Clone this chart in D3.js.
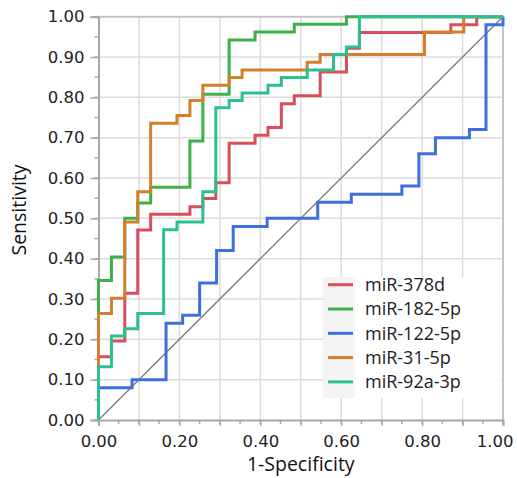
<!DOCTYPE html>
<html>
<head>
<meta charset="utf-8">
<script src="https://cdn.jsdelivr.net/npm/d3@7"></script>
<style>
  body { margin: 0; background: #fff; }
  .tick text { font-family: "DejaVu Sans", Verdana, sans-serif; font-size: 16.5px; fill: #222; }
  .title { font-family: "Open Sans", sans-serif; font-size: 19.5px; fill: #111; }
  .legend text { font-family: "Open Sans", sans-serif; font-size: 18px; fill: #222; }
</style>
</head>
<body>
<div class="chart"></div>
<script>
// ROC points (1-specificity, sensitivity)
var names = ["miR-378d", "miR-182-5p", "miR-122-5p", "miR-31-5p", "miR-92a-3p"];
var colors = ["#da4e5c", "#3eb04a", "#3e6fde", "#d37f2b", "#2cbf8f"];

var fpr378 = [0, 0, 0.032, 0.065, 0.097, 0.129, 0.226, 0.258, 0.29, 0.323, 0.387, 0.419, 0.452, 0.484, 0.548, 0.613, 0.645, 0.871, 0.935, 1];
var tpr378 = [0, 0.157, 0.196, 0.314, 0.471, 0.51, 0.529, 0.549, 0.588, 0.686, 0.706, 0.725, 0.784, 0.804, 0.863, 0.922, 0.961, 0.98, 1, 1];

var fpr182 = [0, 0, 0.032, 0.065, 0.097, 0.129, 0.226, 0.258, 0.323, 0.387, 0.484, 0.613, 1];
var tpr182 = [0, 0.346, 0.404, 0.5, 0.538, 0.577, 0.692, 0.808, 0.942, 0.962, 0.981, 1, 1];

var fpr122 = [0, 0, 0.083, 0.167, 0.208, 0.25, 0.292, 0.333, 0.417, 0.542, 0.625, 0.75, 0.792, 0.833, 0.917, 0.958, 1];
var tpr122 = [0, 0.08, 0.1, 0.24, 0.26, 0.34, 0.42, 0.48, 0.5, 0.54, 0.56, 0.58, 0.66, 0.7, 0.72, 0.98, 1];

var fpr31 = [0, 0, 0.032, 0.065, 0.097, 0.129, 0.194, 0.226, 0.258, 0.323, 0.355, 0.516, 0.548, 0.806, 0.903, 1];
var tpr31 = [0, 0.264, 0.302, 0.491, 0.566, 0.736, 0.755, 0.792, 0.83, 0.849, 0.868, 0.887, 0.906, 0.962, 1, 1];

var fpr92 = [0, 0, 0.032, 0.065, 0.097, 0.161, 0.194, 0.258, 0.29, 0.323, 0.355, 0.419, 0.452, 0.516, 0.581, 0.613, 0.645, 1];
var tpr92 = [0, 0.132, 0.208, 0.226, 0.264, 0.472, 0.491, 0.566, 0.774, 0.792, 0.811, 0.83, 0.849, 0.868, 0.906, 0.925, 1, 1];

var xTicks = [0, 0.2, 0.4, 0.6, 0.8, 1.0];
var yTicks = [0, 0.1, 0.2, 0.3, 0.4, 0.5, 0.6, 0.7, 0.8, 0.9, 1.0];
var gridVals = [0.1, 0.2, 0.3, 0.4, 0.5, 0.6, 0.7, 0.8, 0.9];
var minorVals = d3.range(0, 1.0001, 0.05);

var curves = [
  {name: names[0], color: colors[0], fpr: fpr378, tpr: tpr378},
  {name: names[1], color: colors[1], fpr: fpr182, tpr: tpr182},
  {name: names[2], color: colors[2], fpr: fpr122, tpr: tpr122},
  {name: names[3], color: colors[3], fpr: fpr31, tpr: tpr31},
  {name: names[4], color: colors[4], fpr: fpr92, tpr: tpr92}
];

var width = 517, height = 478;
var x = d3.scaleLinear().domain([0, 1]).range([98.5, 503]);
var y = d3.scaleLinear().domain([0, 1]).range([420, 16.7]);

var svg = d3.select(".chart")
  .append("svg")
  .attr("width", width)
  .attr("height", height);

// grid
var grid = svg.append("g").attr("class", "grid");
grid.selectAll(".gx").data(gridVals).enter().append("line")
  .attr("x1", d => x(d)).attr("x2", d => x(d))
  .attr("y1", y(0)).attr("y2", y(1))
  .attr("stroke", "#dcdcdc").attr("stroke-width", 1.5);
grid.selectAll(".gy").data(gridVals).enter().append("line")
  .attr("y1", d => y(d)).attr("y2", d => y(d))
  .attr("x1", x(0)).attr("x2", x(1))
  .attr("stroke", "#dcdcdc").attr("stroke-width", 1.5);

// frame top/right
svg.append("path")
  .attr("d", "M" + x(0) + "," + y(1) + "H" + x(1) + "V" + y(0))
  .attr("fill", "none")
  .attr("stroke", "#c4c4c4")
  .attr("stroke-width", 2);

// minor ticks
svg.append("g").selectAll("line").data(minorVals).enter().append("line")
  .attr("x1", d => x(d)).attr("x2", d => x(d))
  .attr("y1", y(0)).attr("y2", y(0) + 4)
  .attr("stroke", "#a8a8a8").attr("stroke-width", 1.5);
svg.append("g").selectAll("line").data(minorVals).enter().append("line")
  .attr("y1", d => y(d)).attr("y2", d => y(d))
  .attr("x1", x(0)).attr("x2", x(0) - 4)
  .attr("stroke", "#a8a8a8").attr("stroke-width", 1.5);

var xAxis = svg.append("g")
  .attr("transform", "translate(0," + y(0) + ")")
  .call(d3.axisBottom(x).tickValues(d3.range(0, 1.0001, 0.1)).tickSize(6).tickPadding(9)
    .tickFormat(d => xTicks.some(t => Math.abs(t - d) < 1e-6) ? d3.format(".2f")(d) : ""));
var yAxis = svg.append("g")
  .attr("transform", "translate(" + x(0) + ",0)")
  .call(d3.axisLeft(y).tickValues(yTicks).tickSize(8).tickPadding(6).tickFormat(d3.format(".2f")));

// keep the last x label inside the page
xAxis.selectAll(".tick text")
  .filter(d => Math.abs(d - 1) < 1e-6)
  .attr("text-anchor", "end")
  .attr("x", 10);

[xAxis, yAxis].forEach(function(a) {
  a.select(".domain").attr("stroke", "#a8a8a8").attr("stroke-width", 2);
  a.selectAll(".tick line").attr("stroke", "#a8a8a8").attr("stroke-width", 1.5);
});

// chance line
svg.append("line")
  .attr("x1", x(0)).attr("y1", y(0))
  .attr("x2", x(1)).attr("y2", y(1))
  .attr("stroke", "#7a7a7a").attr("stroke-width", 1.3);

var line = d3.line()
  .x(d => x(d[0]))
  .y(d => y(d[1]))
  .curve(d3.curveStepAfter);

svg.append("g").attr("class", "curves")
  .selectAll("path")
  .data(curves)
  .enter().append("path")
  .attr("d", d => line(d.fpr.map((f, i) => [f, d.tpr[i]])))
  .attr("fill", "none")
  .attr("stroke", d => d.color)
  .attr("stroke-width", 3);

// legend
var legend = svg.append("g").attr("class", "legend");
legend.append("rect")
  .attr("x", 323).attr("y", 277).attr("width", 178).attr("height", 121)
  .attr("fill", "#fff");
legend.append("rect")
  .attr("x", 323).attr("y", 277).attr("width", 32).attr("height", 121)
  .attr("fill", "#f4f4f4");
var items = legend.selectAll(".item").data(curves).enter().append("g")
  .attr("transform", (d, i) => "translate(0," + (284.7 + i * 24.3) + ")");
items.append("line")
  .attr("x1", 328).attr("x2", 353)
  .attr("stroke", d => d.color).attr("stroke-width", 3);
items.append("text")
  .attr("x", 365).attr("dy", "0.35em")
  .text(d => d.name);

svg.append("text").attr("class", "title")
  .attr("x", (x(0) + x(1)) / 2).attr("y", 471)
  .attr("text-anchor", "middle")
  .text("1-Specificity");
svg.append("text").attr("class", "title")
  .attr("transform", "translate(26,210) rotate(-90)")
  .attr("text-anchor", "middle")
  .text("Sensitivity");
</script>
</body>
</html>
